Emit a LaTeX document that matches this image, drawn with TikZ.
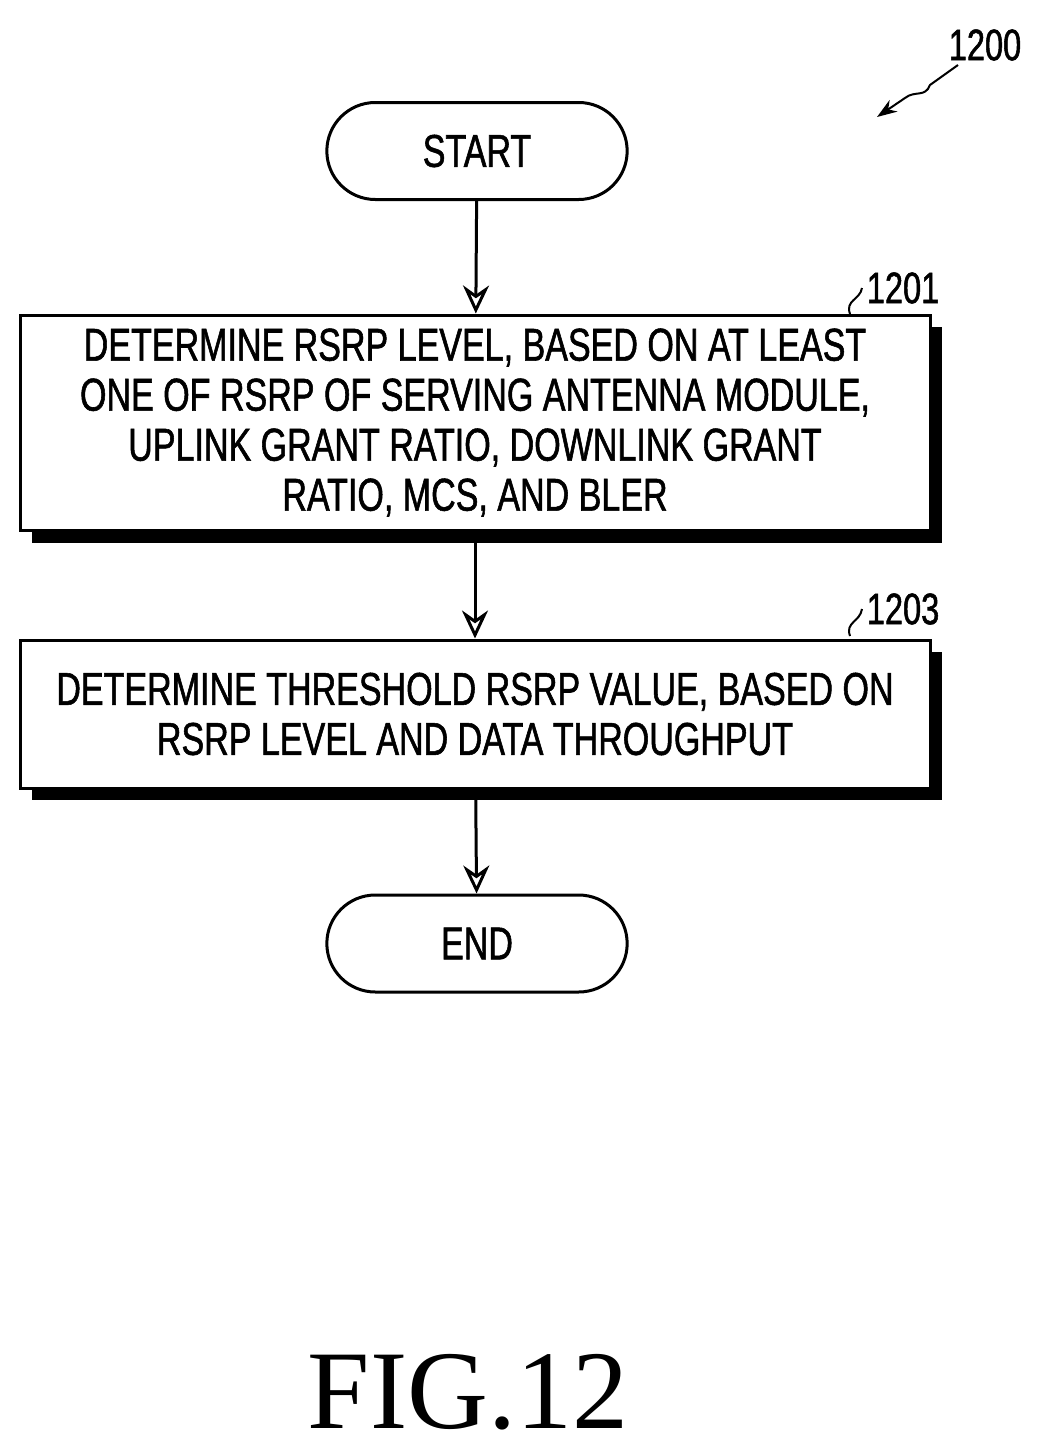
\documentclass[tikz,border=0pt]{standalone}
\usepackage{fontspec}
\setmainfont{Liberation Serif}
\newfontfamily\cond[FakeStretch=0.74,FakeBold=1.2]{Liberation Sans}
\usetikzlibrary{arrows.meta,shapes.misc,decorations.pathmorphing}
\begin{document}
\begin{tikzpicture}[x=1pt,y=-1pt,line width=3pt,
  term/.style={draw,rounded rectangle,minimum width=307pt,minimum height=97pt,font=\cond\fontsize{46}{50}\selectfont},
  proc/.style={draw,fill=white,minimum width=910pt,align=center,inner sep=0pt,font=\cond\fontsize{46}{50}\selectfont},
  shad/.style={fill=black,draw=none},
  arr/.style={-{Stealth[length=28pt,width=26pt,open]}},
  lbl/.style={font=\cond\fontsize{44}{48}\selectfont}]
\useasboundingbox (0,0) rectangle (1046,1456);
\node[term] (start) at (477,151) {START};
\fill[shad] (32,327) rectangle (942,543);
\node[proc,minimum height=215pt] (b1) at (475,422.5) {DETERMINE RSRP LEVEL, BASED ON AT LEAST\\ONE OF RSRP OF SERVING ANTENNA MODULE,\\UPLINK GRANT RATIO, DOWNLINK GRANT\\RATIO, MCS, AND BLER};
\fill[shad] (32,652) rectangle (942,800);
\node[proc,minimum height=148pt] (b2) at (475,714) {DETERMINE THRESHOLD RSRP VALUE, BASED ON\\RSRP LEVEL AND DATA THROUGHPUT};
\node[term] (end) at (477,943.5) {END};
\draw[arr] (start) -- (b1);
\draw[arr] (b1) -- (b2);
\draw[arr] (b2) -- (end);
\node[lbl,anchor=west] (l1) at (862,288) {1201};
\draw[line width=2pt] (850,314) .. controls (845,300) and (860,300) .. (l1.west);
\node[lbl,anchor=west] (l2) at (862,609) {1203};
\draw[line width=2pt] (850,636) .. controls (845,622) and (860,622) .. (l2.west);
\node[lbl] (l0) at (985,45) {1200};
\coordinate (t0) at (877,117);
\draw[line width=2pt,-{Stealth[length=20pt,width=14pt]}] (958,65) -- (930,85) .. controls (925,98) and (915,90) .. (905,98) -- (t0);
\node[font=\fontsize{112}{114}\selectfont] (fig) at (468,1392) {FIG.12};
\end{tikzpicture}
\end{document}
